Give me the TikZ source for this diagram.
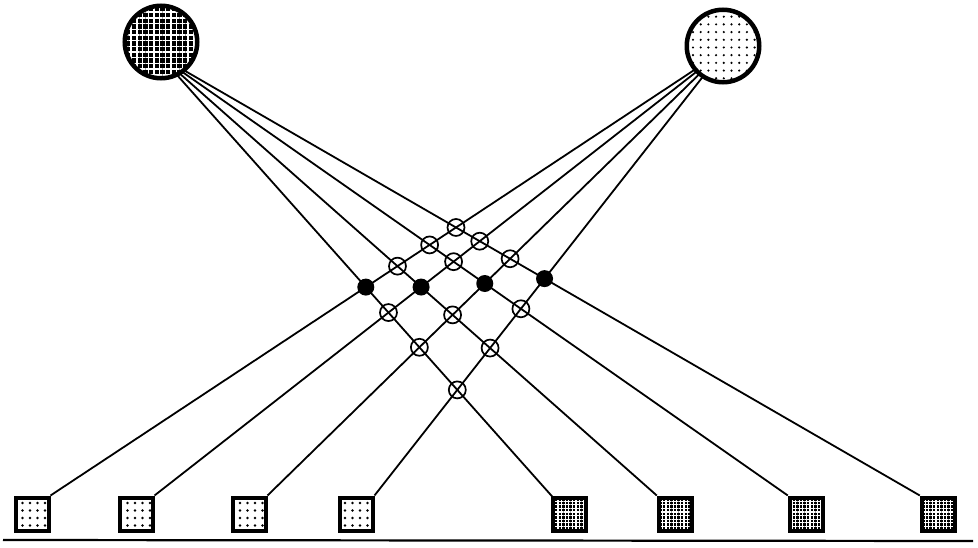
\documentclass[tikz,border=0pt]{standalone}
\usetikzlibrary{positioning,intersections,patterns.meta,backgrounds}

\begin{document}
\begin{tikzpicture}[x=1pt,y=-1pt,
   wire/.style={line width=1.8pt},
   hub/.style={circle,draw,line width=4.5pt,minimum size=72.5pt,inner sep=0pt},
   darkhub/.style={hub,preaction={fill=black},pattern={Hatch[distance=5.7pt,line width=1.4pt]},pattern color=white},
   lighthub/.style={hub,preaction={fill=white},pattern={Dots[distance=7.7pt,radius=1.2pt]}},
   port/.style={rectangle,draw,line width=4pt,minimum size=33pt,inner sep=0pt},
   lightport/.style={port,preaction={fill=white},pattern={Dots[distance=7.5pt,radius=1.4pt]}},
   darkport/.style={port,preaction={fill=black},pattern={Hatch[distance=3.6pt,line width=1.3pt]},pattern color=white},
   cross/.style={circle,draw,line width=1.7pt,minimum size=17pt,inner sep=0pt},
   joint/.style={circle,fill=black,minimum size=17pt,inner sep=0pt}]
  \useasboundingbox (0,0) rectangle (978,548);
  \node[darkhub] (A) at (161,42) {};
  \node[lighthub] (B) at (723,46) {};
  \coordinate (A0) at ([yshift=-15pt]A.center);
  \coordinate (B0) at ([yshift=-5pt]B.center);
  \node[lightport] (S1) at (32,514) {};
  \node[lightport] (S2) [right=67pt of S1] {};
  \node[lightport] (S3) [right=76pt of S2] {};
  \node[lightport] (S4) [right=70pt of S3] {};
  \node[darkport] (S5) [right=178pt of S4] {};
  \node[darkport] (S6) [right=70pt of S5] {};
  \node[darkport] (S7) [right=94pt of S6] {};
  \node[darkport] (S8) [right=95pt of S7] {};
  \coordinate (W) at (3,540);
  \coordinate (E) at (973,541);
  \draw[line width=2.2pt] (W) -- (E);
  % fan-out from each hub, kept under the hubs
  \begin{pgfonlayer}{background}
    \foreach \i/\s in {1/5,2/6,3/7,4/8}
      \draw[wire,name path global=L\i] (A0) -- (S\s.north west);
    \foreach \i in {1,...,4}
      \draw[wire,name path global=R\i] (B0) -- (S\i.north east);
  \end{pgfonlayer}
  \foreach \i in {1,...,4}
    \foreach \j in {1,...,4}
      \path[name intersections={of={L\i} and {R\j},by=X\i\j}];
  \foreach \i/\j in {1/2,1/3,1/4,2/1,2/3,2/4,3/1,3/2,3/4,4/1,4/2,4/3}
    \node[cross] (C\i\j) at (X\i\j) {};
  \foreach \i in {1,...,4}
    \node[joint] (J\i) at (X\i\i) {};
\end{tikzpicture}
\end{document}
